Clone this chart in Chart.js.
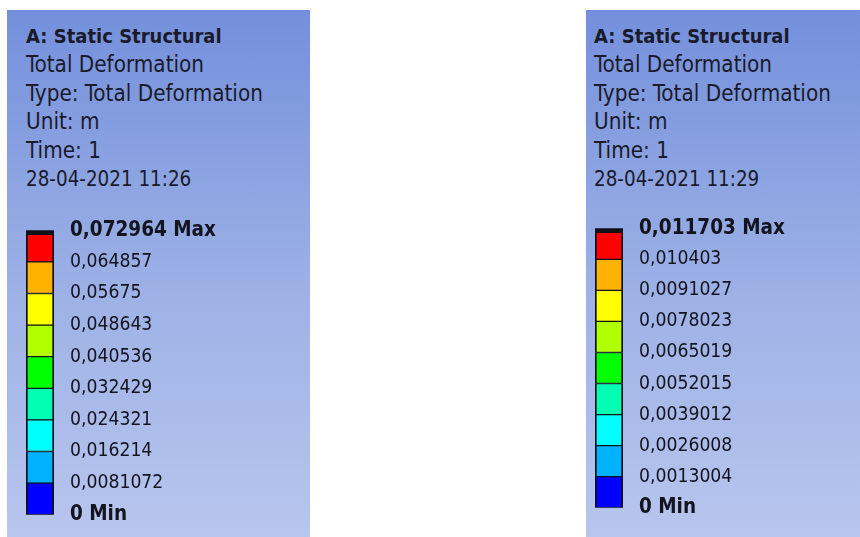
<!DOCTYPE html>
<html>
<head>
<meta charset="utf-8">
<script src="https://cdn.jsdelivr.net/npm/chart.js@4"></script>
<style>
  html, body { margin: 0; padding: 0; background: #fff; }
  body { width: 860px; height: 537px; position: relative; overflow: hidden; }
  .panel {
    position: absolute; top: 10px; height: 527px;
    background: linear-gradient(to bottom, #7490dc 0%, #9eb2e6 55%, #b8c6ee 100%);
  }
  .head {
    position: absolute; top: 21px;
    font-family: "DejaVu Sans Condensed", "DejaVu Sans", sans-serif;
    font-size: 22.3px; line-height: 28.4px; color: #1a1a2a;
    white-space: nowrap;
  }
  .head b { font-weight: bold; font-size: 20px; }
  .head .d { font-size: 20.4px; }
  .box { position: absolute; }
</style>
</head>
<body>
<div class="panel" style="left:7px;width:303px"></div>
<div class="panel" style="left:586px;width:274px"></div>

<div class="head" style="left:26px">
  <b>A: Static Structural</b><br>Total Deformation<br>Type: Total Deformation<br>Unit: m<br>Time: 1<br><span class="d">28-04-2021 11:26</span>
</div>
<div class="head" style="left:594px">
  <b>A: Static Structural</b><br>Total Deformation<br>Type: Total Deformation<br>Unit: m<br>Time: 1<br><span class="d">28-04-2021 11:29</span>
</div>

<div class="box" style="left:26px;top:202px;width:278px;height:341px"><canvas id="legendA"></canvas></div>
<div class="box" style="left:595px;top:200px;width:265px;height:336px"><canvas id="legendB"></canvas></div>

<script>
  // band colours, bottom (min) to top (max)
  const bandColors = ['#0000ff', '#00b2ff', '#00ffff', '#00ffb2', '#00ff00', '#b2ff00', '#ffff00', '#ffb200', '#ff0000'];

  // contour limits (min -> max)
  const limitsA = [0, 0.0081072, 0.016214, 0.024321, 0.032429, 0.040536, 0.048643, 0.05675, 0.064857, 0.072964];
  const labelsA = ['0 Min', '0,0081072', '0,016214', '0,024321', '0,032429', '0,040536', '0,048643', '0,05675', '0,064857', '0,072964 Max'];

  const limitsB = [0, 0.0013004, 0.0026008, 0.0039012, 0.0052015, 0.0065019, 0.0078023, 0.0091027, 0.010403, 0.011703];
  const labelsB = ['0 Min', '0,0013004', '0,0026008', '0,0039012', '0,0052015', '0,0065019', '0,0078023', '0,0091027', '0,010403', '0,011703 Max'];

  function makeLegend(id, limits, labels) {
    const ctx = document.getElementById(id).getContext('2d');
    const last = limits.length - 1;

    // one stacked dataset per band, its height = band width
    const datasets = bandColors.map((c, i) => ({
      data: [limits[i + 1] - limits[i]],
      backgroundColor: c,
      borderColor: '#101018',
      borderWidth: { top: i === bandColors.length - 1 ? 5 : 1, bottom: 1, left: 2, right: 2 },
      borderSkipped: false,
      barPercentage: 1,
      categoryPercentage: 1
    }));

    return new Chart(ctx, {
      type: 'bar',
      data: { labels: [''], datasets: datasets },
      options: {
        responsive: true,
        maintainAspectRatio: false,
        animation: false,
        layout: { padding: 0 },
        plugins: { legend: { display: false }, tooltip: { enabled: false } },
        scales: {
          x: { stacked: true, display: false },
          y: {
            stacked: true,
            position: 'right',
            min: 0,
            max: limits[last],
            afterBuildTicks: s => { s.ticks = limits.map(v => ({ value: v })); },
            afterFit: s => { s.width = s.chart.width - 28; },
            border: { display: false },
            grid: { display: false, drawTicks: false },
            ticks: {
              padding: 16,
              autoSkip: false,
              color: '#14141e',
              font: c => {
                const edge = c.index === 0 || c.index === last;
                return {
                  family: '"DejaVu Sans Condensed", "DejaVu Sans", sans-serif',
                  size: edge ? 20.5 : 19.2,
                  weight: edge ? 'bold' : 'normal'
                };
              },
              callback: (v, i) => labels[i]
            }
          }
        }
      }
    });
  }

  makeLegend('legendA', limitsA, labelsA);
  makeLegend('legendB', limitsB, labelsB);
</script>
</body>
</html>
